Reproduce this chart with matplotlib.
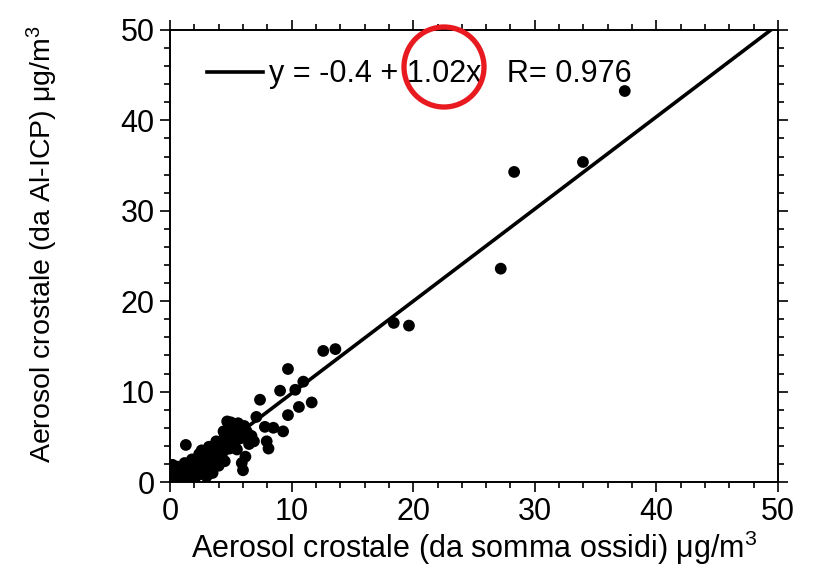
import matplotlib
matplotlib.use('Agg')
import matplotlib.pyplot as plt
from matplotlib.patches import Ellipse
from matplotlib.ticker import MultipleLocator
import numpy as np

plt.rcParams.update({'font.family': ['Liberation Sans', 'DejaVu Sans']})
plt.rcParams.update({'mathtext.default': 'regular'})

# crustal aerosol: sum of oxides (x) vs Al-ICP estimate (y), ug/m3
x_obs = [0.1, 0.2, 0.3, 0.4, 0.5, 0.6, 0.7, 0.8, 0.9, 1.0,
         1.1, 1.2, 1.3, 1.4, 1.5, 1.6, 1.7, 1.8, 1.9, 2.0,
         2.1, 2.2, 2.3, 2.4, 2.5, 2.6, 2.7, 2.8, 2.9, 3.0,
         3.1, 3.2, 3.3, 3.4, 3.5, 3.6, 3.7, 3.8, 3.9, 4.0,
         4.1, 4.2, 4.3, 4.4, 4.5, 4.6, 4.7, 4.8, 4.9, 5.0,
         5.1, 5.2, 5.3, 5.5, 5.6, 5.7, 5.8, 5.9, 6.0, 6.1,
         6.2, 6.3, 6.5, 6.7, 6.9, 7.1, 7.4, 7.8, 7.95, 8.1,
         8.5, 1.3, 0.15, 0.5, 1.0, 2.0, 3.0, 3.5, 4.0, 4.5,
         0.2, 0.6, 1.2, 1.8, 2.4, 3.2, 3.8, 4.4, 5.0, 5.4,
         5.9, 6.4, 0.3, 0.9, 1.5, 2.6, 4.9, 5.3,
         9.05, 9.7, 10.3, 10.6, 10.96, 11.65, 9.7, 9.3, 12.6, 13.6,
         18.4, 19.65, 27.2, 28.3, 33.96, 37.4]
y_obs = [0.3, 0.9, 1.5, 0.2, 0.6, 1.2, 0.1, 0.5, 1.0, 0.3,
         0.8, 1.4, 0.2, 0.6, 1.1, 0.4, 1.6, 0.9, 0.3, 1.3,
         2.0, 0.7, 1.7, 1.1, 2.4, 0.9, 1.5, 2.8, 1.9, 1.2,
         3.4, 2.3, 1.6, 3.0, 2.6, 3.8, 1.9, 3.2, 2.4, 4.1,
         3.6, 2.9, 4.6, 3.4, 5.3, 4.0, 6.7, 4.9, 3.7, 5.7,
         4.4, 6.1, 5.0, 3.6, 6.5, 4.8, 5.4, 2.1, 1.3, 6.2,
         2.8, 5.6, 4.2, 5.1, 4.5, 7.2, 9.1, 6.1, 4.5, 3.7,
         6.0, 4.1, 0.05, 0.1, 0.05, 0.3, 0.6, 1.0, 1.8, 2.3,
         1.9, 1.7, 2.1, 2.5, 3.1, 3.9, 4.5, 5.6, 6.6, 5.9,
         4.9, 5.2, 0.7, 0.4, 0.2, 3.5, 5.5, 4.3,
         10.1, 12.5, 10.2, 8.3, 11.1, 8.8, 7.4, 5.6, 14.5, 14.7,
         17.6, 17.3, 23.6, 34.3, 35.4, 43.25]

# linear fit
intercept = -0.4
slope = 1.02
r_value = 0.976
fit_range = [0, 50]

fig = plt.figure(figsize=(8.23, 5.68), dpi=100)
ax = fig.add_axes([0.2066, 0.1514, 0.7387, 0.7958])

fit_x = np.array(fit_range, dtype=float)
ax.plot(fit_x, intercept + slope * fit_x, color='black', linewidth=2.6,
        label='y = -0.4 + 1.02x   R= 0.976', zorder=2)
ax.scatter(x_obs, y_obs, s=72, color='black', edgecolors='none', zorder=3)

ax.set_xlim(0, 50)
ax.set_ylim(0, 50)
ax.xaxis.set_major_locator(MultipleLocator(10))
ax.xaxis.set_minor_locator(MultipleLocator(2))
ax.yaxis.set_major_locator(MultipleLocator(10))
ax.yaxis.set_minor_locator(MultipleLocator(2))
ax.tick_params(which='both', direction='out', top=True, right=True,
               labeltop=False, labelright=False, width=1.2, labelsize=22)
ax.tick_params(which='major', length=7, pad=4)
ax.tick_params(which='minor', length=4)
for sp in ax.spines.values():
    sp.set_linewidth(1.4)

ax.set_xlabel('Aerosol crostale (da somma ossidi) μg/m$^{3}$', fontsize=22, labelpad=1)
ax.set_ylabel('Aerosol crostale (da Al-ICP) μg/m$^{3}$', fontsize=20.5)
ax.yaxis.set_label_coords(-0.181, 0.525)

ax.legend(loc='upper left', bbox_to_anchor=(0.04, 0.962), frameon=False,
          fontsize=22, handlelength=1.85, handletextpad=0.2, borderaxespad=0)

circ = Ellipse((444 / 823, 1 - 67 / 568), 80 / 823, 80 / 568, transform=fig.transFigure,
               fill=False, edgecolor='#e8191f', linewidth=3.8, clip_on=False, zorder=10)
fig.patches.append(circ)

plt.savefig('out.png', dpi=100)
